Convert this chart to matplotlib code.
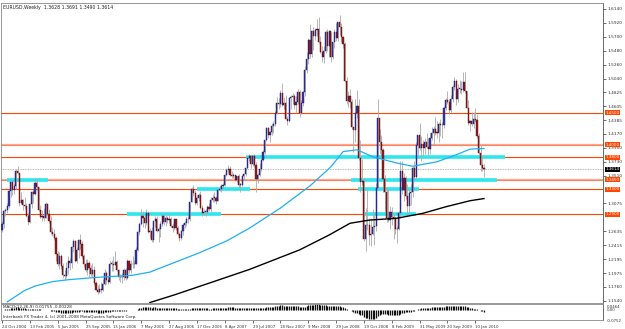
import numpy as np
import pandas as pd
import matplotlib
matplotlib.use('Agg')
import matplotlib.pyplot as plt
from matplotlib.transforms import blended_transform_factory

# ---------------- data (EURUSD weekly) ----------------
first_open = 1.2660
closes = [
 1.2755,1.2950,1.2965,1.3035,1.3265,1.3410,1.3290,1.3350,1.3590,1.3555,
 1.3080,1.3120,1.3055,1.3040,1.2880,1.2780,1.3070,1.3255,1.3215,1.3400,
 1.3330,1.2975,1.2860,1.2870,1.2850,1.3070,1.2900,1.2800,1.2620,1.2585,
 1.2530,1.2275,1.2125,1.2245,1.2080,1.1945,1.1935,1.2060,1.2160,1.2140,
 1.2385,1.2480,1.2165,1.2340,1.2490,1.2430,1.2245,1.2125,1.2025,1.2140,
 1.2055,1.1960,1.2030,1.1820,1.1710,1.1680,1.1725,1.1705,1.1810,1.1970,
 1.1860,1.1840,1.2125,1.2120,1.2110,1.2150,1.2030,1.1910,1.1905,1.1915,
 1.2030,1.1890,1.2160,1.2030,1.2120,1.2115,1.2120,1.2345,1.2625,1.2745,
 1.2880,1.2840,1.2760,1.2930,1.2620,1.2640,1.2500,1.2790,1.2830,1.2640,
 1.2675,1.2750,1.2880,1.2775,1.2850,1.2815,1.2825,1.2715,1.2685,1.2820,
 1.2685,1.2585,1.2535,1.2640,1.2740,1.2760,1.2835,1.2820,1.3095,1.3305,
 1.3240,1.3080,1.3160,1.3200,1.3005,1.2920,1.2940,1.2945,1.3020,1.2990,
 1.3135,1.3160,1.3160,1.3115,1.3280,1.3300,1.3355,1.3360,1.3520,1.3605,
 1.3620,1.3520,1.3510,1.3520,1.3450,1.3500,1.3370,1.3370,1.3505,1.3540,
 1.3625,1.3785,1.3815,1.3690,1.3825,1.3685,1.3460,1.3520,1.3620,1.3760,
 1.3880,1.4075,1.4265,1.4150,1.4200,1.4300,1.4330,1.4505,1.4650,1.4635,
 1.4820,1.4620,1.4650,1.4410,1.4375,1.4730,1.4755,1.4770,1.4630,1.4675,
 1.4830,1.4500,1.4665,1.4825,1.5180,1.5355,1.5650,1.5430,1.5790,1.5710,
 1.5805,1.5820,1.5620,1.5460,1.5390,1.5480,1.5770,1.5550,1.5790,1.5385,
 1.5615,1.5775,1.5685,1.5930,1.5860,1.5705,1.5595,1.5000,1.4685,1.4760,
 1.4680,1.4275,1.4225,1.4500,1.4615,1.3790,1.3410,1.3420,1.2510,1.2730,
 1.2740,1.2570,1.2590,1.2695,1.2720,1.3315,1.4420,1.4050,1.3920,1.3455,
 1.3255,1.2850,1.2805,1.2940,1.2860,1.2830,1.2665,1.2665,1.2920,1.3590,
 1.3290,1.3480,1.3185,1.3030,1.3240,1.3260,1.3635,1.3490,1.4000,1.4150,
 1.3950,1.4005,1.3950,1.4040,1.3970,1.3925,1.4110,1.4185,1.4250,1.4190,
 1.4185,1.4330,1.4310,1.4305,1.4575,1.4710,1.4680,1.4550,1.4720,1.4905,
 1.5010,1.4720,1.4880,1.4880,1.4865,1.4995,1.4840,1.4580,1.4335,1.4375,
 1.4325,1.4410,1.4385,1.4135,1.3865,1.3675,1.3628,1.3614]
highs = [
 1.2790,1.2970,1.3005,1.3075,1.3290,1.3450,1.3435,1.3400,1.3610,1.3667,
 1.3560,1.3250,1.3140,1.3180,1.3085,1.2920,1.3085,1.3275,1.3300,1.3478,
 1.3460,1.3340,1.3050,1.2970,1.3000,1.3100,1.3075,1.2990,1.2870,1.2700,
 1.2670,1.2560,1.2330,1.2300,1.2280,1.2130,1.2020,1.2150,1.2240,1.2210,
 1.2400,1.2520,1.2490,1.2390,1.2520,1.2590,1.2480,1.2270,1.2190,1.2190,
 1.2160,1.2110,1.2130,1.2090,1.1850,1.1780,1.1800,1.1830,1.1880,1.2040,
 1.2000,1.1930,1.2170,1.2180,1.2250,1.2320,1.2180,1.2040,1.1960,1.1970,
 1.2050,1.2050,1.2190,1.2180,1.2180,1.2250,1.2180,1.2380,1.2640,1.2780,
 1.2980,1.2950,1.2890,1.2980,1.2950,1.2680,1.2700,1.2800,1.2870,1.2870,
 1.2700,1.2790,1.2900,1.2910,1.2890,1.2880,1.2900,1.2860,1.2760,1.2830,
 1.2830,1.2720,1.2620,1.2660,1.2760,1.2800,1.2860,1.2870,1.3100,1.3330,
 1.3370,1.3280,1.3200,1.3230,1.3270,1.3050,1.2980,1.2990,1.3050,1.3080,
 1.3170,1.3220,1.3250,1.3190,1.3300,1.3370,1.3380,1.3390,1.3530,1.3640,
 1.3680,1.3660,1.3580,1.3560,1.3520,1.3510,1.3530,1.3400,1.3520,1.3550,
 1.3640,1.3790,1.3850,1.3830,1.3830,1.3850,1.3720,1.3560,1.3710,1.3780,
 1.3920,1.4080,1.4280,1.4280,1.4210,1.4340,1.4380,1.4530,1.4750,1.4730,
 1.4870,1.4970,1.4750,1.4780,1.4450,1.4750,1.4790,1.4820,1.4800,1.4770,
 1.4880,1.4860,1.4710,1.4840,1.5240,1.5460,1.5680,1.5900,1.5810,1.5850,
 1.5840,1.5980,1.6020,1.5710,1.5560,1.5560,1.5810,1.5820,1.5810,1.5780,
 1.5620,1.5820,1.5920,1.5940,1.6038,1.5920,1.5720,1.5620,1.5060,1.4850,
 1.4880,1.4720,1.4280,1.4720,1.4865,1.4720,1.4080,1.3780,1.3480,1.3000,
 1.3300,1.2850,1.2850,1.2990,1.2940,1.3400,1.4720,1.4240,1.4150,1.3940,
 1.3520,1.3330,1.3300,1.3040,1.3020,1.2900,1.2870,1.2720,1.2960,1.3740,
 1.3740,1.3560,1.3500,1.3380,1.3300,1.3380,1.3660,1.3740,1.4050,1.4160,
 1.4340,1.4140,1.4070,1.4100,1.4190,1.4100,1.4180,1.4280,1.4300,1.4440,
 1.4370,1.4350,1.4400,1.4350,1.4610,1.4740,1.4840,1.4720,1.4780,1.4940,
 1.5060,1.5030,1.4950,1.5020,1.5000,1.5140,1.5145,1.4850,1.4700,1.4390,
 1.4510,1.4510,1.4580,1.4480,1.4190,1.4000,1.3820,1.3691]
lows = [
 1.2630,1.2690,1.2880,1.2920,1.3000,1.3180,1.3210,1.3220,1.3300,1.3540,
 1.3040,1.3060,1.2970,1.2985,1.2860,1.2730,1.2760,1.3000,1.3080,1.3200,
 1.3280,1.2950,1.2840,1.2800,1.2800,1.2850,1.2890,1.2760,1.2590,1.2560,
 1.2500,1.2165,1.2090,1.2040,1.2035,1.1900,1.1870,1.1900,1.1960,1.2030,
 1.2060,1.2310,1.2150,1.2140,1.2220,1.2360,1.2210,1.2070,1.1990,1.1950,
 1.1910,1.1930,1.1920,1.1790,1.1700,1.1640,1.1660,1.1660,1.1690,1.1780,
 1.1810,1.1800,1.1820,1.2010,1.2000,1.2100,1.2000,1.1870,1.1830,1.1820,
 1.1860,1.1860,1.1880,1.1980,1.1980,1.2060,1.2060,1.2120,1.2330,1.2580,
 1.2730,1.2700,1.2680,1.2730,1.2600,1.2530,1.2460,1.2460,1.2700,1.2620,
 1.2460,1.2550,1.2720,1.2730,1.2710,1.2760,1.2760,1.2700,1.2630,1.2650,
 1.2660,1.2570,1.2480,1.2500,1.2580,1.2690,1.2720,1.2770,1.2800,1.3090,
 1.3190,1.3050,1.3050,1.3110,1.2980,1.2870,1.2890,1.2870,1.2920,1.2950,
 1.2940,1.3090,1.3100,1.3070,1.3110,1.3270,1.3250,1.3300,1.3350,1.3500,
 1.3560,1.3500,1.3480,1.3470,1.3420,1.3410,1.3340,1.3260,1.3350,1.3440,
 1.3510,1.3610,1.3750,1.3640,1.3660,1.3650,1.3260,1.3400,1.3500,1.3580,
 1.3740,1.3850,1.4060,1.4110,1.4040,1.4160,1.4180,1.4300,1.4480,1.4560,
 1.4600,1.4610,1.4570,1.4400,1.4310,1.4350,1.4570,1.4640,1.4570,1.4500,
 1.4640,1.4440,1.4480,1.4610,1.4770,1.5130,1.5270,1.5360,1.5380,1.5500,
 1.5650,1.5720,1.5600,1.5440,1.5300,1.5290,1.5450,1.5480,1.5380,1.5300,
 1.5350,1.5520,1.5630,1.5630,1.5730,1.5620,1.5520,1.4990,1.4640,1.4590,
 1.4580,1.4240,1.3880,1.4050,1.4420,1.3760,1.3260,1.3360,1.2480,1.2330,
 1.2650,1.2420,1.2400,1.2570,1.2420,1.2640,1.3310,1.3850,1.3800,1.3260,
 1.2950,1.2780,1.2780,1.2670,1.2730,1.2520,1.2590,1.2455,1.2650,1.2850,
 1.3220,1.3110,1.3140,1.2890,1.2890,1.3050,1.3180,1.3460,1.3480,1.3830,
 1.3920,1.3750,1.3820,1.3850,1.3950,1.3830,1.3860,1.4070,1.4000,1.4150,
 1.4110,1.4050,1.4130,1.4100,1.4270,1.4540,1.4640,1.4480,1.4520,1.4680,
 1.4860,1.4630,1.4680,1.4810,1.4800,1.4830,1.4810,1.4580,1.4310,1.4220,
 1.4290,1.4260,1.4360,1.4100,1.3850,1.3590,1.3580,1.3490]

# moving averages (bar index, price)
ma_cyan_idx = [3, 13, 19, 29, 38, 56, 75, 85, 98, 113, 129, 142, 160, 177, 189, 196, 204, 213, 227, 236, 250, 261, 269, 277]
ma_cyan_val = [1.152, 1.170, 1.177, 1.184, 1.187, 1.191, 1.194, 1.199, 1.213, 1.229, 1.248, 1.268, 1.300, 1.335, 1.365, 1.389, 1.392, 1.381, 1.371, 1.366, 1.373, 1.384, 1.393, 1.394]
ma_black_idx = [85, 99, 113, 142, 171, 188, 200, 211, 227, 242, 255, 269, 277]
ma_black_val = [1.151, 1.163, 1.176, 1.203, 1.234, 1.2575, 1.276, 1.281, 1.284, 1.2918, 1.302, 1.3116, 1.315]

# horizontal levels
level_prices = [1.4500, 1.4000, 1.3800, 1.3450, 1.3300, 1.2900]
level_pale = [False, True, False, True, False, False]
zone_prices = [1.3450, 1.2900, 1.3300, 1.3800, 1.3450, 1.3300, 1.2900]
zone_start = [2.9, 72, 112, 140, 200.6, 204.6, 208.6]
zone_end = [26.4, 126, 142.5, 289, 284.5, 239.7, 238]

# price scale labels (1.3290 and 1.2855 are hidden behind level boxes in the chart)
price_ticks = [1.6140, 1.5920, 1.5700, 1.5480, 1.5260, 1.5040, 1.4825, 1.4605, 1.4385,
               1.4170, 1.3950, 1.3730, 1.3510, 1.3075, 1.2635, 1.2415,
               1.2195, 1.1975, 1.1760, 1.1540]
date_tick_idx = list(range(0, 273, 16))
date_tick_labels = ["24 Oct 2004", "13 Feb 2005", "5 Jun 2005", "25 Sep 2005", "15 Jan 2006",
                    "7 May 2006", "27 Aug 2006", "17 Dec 2006", "8 Apr 2007", "29 Jul 2007",
                    "18 Nov 2007", "9 Mar 2008", "29 Jun 2008", "19 Oct 2008", "8 Feb 2009",
                    "31 May 2009", "20 Sep 2009", "10 Jan 2010"]
current_price = 1.3614
header = "EURUSD,Weekly  1.3628 1.3691 1.3490 1.3614"

# ---------------- figure ----------------
W, H = 625, 329
fig = plt.figure(figsize=(W / 100, H / 100), dpi=100)
fig.patch.set_facecolor('white')

def fy(py):
    return 1 - py / H

main_top, main_bot = 3, 302.5
ind_top, ind_bot = 303.5, 320
left_px, right_px = 1, 603
ax = fig.add_axes([left_px / W, fy(main_bot), (right_px - left_px) / W, (main_bot - main_top) / H])
axi = fig.add_axes([left_px / W, fy(ind_bot), (right_px - left_px) / W, (ind_bot - ind_top) / H], sharex=ax)

def price_at(py):
    return 1.6140 - (py - 9) / 634.0

x_per_bar = 1.74
x0 = 2.0
xlim = ((left_px - x0) / x_per_bar, (right_px - x0) / x_per_bar)
ax.set_xlim(*xlim)
ax.set_ylim(price_at(main_bot), price_at(main_top))

n = len(closes)
idx = np.arange(n)
opens = np.array([first_open] + closes[:-1])
closes_a = np.array(closes)
highs_a = np.array(highs)
lows_a = np.array(lows)

# levels
for p, pale in zip(level_prices, level_pale):
    if pale:
        ax.axhline(p, color='#F8A98E', lw=1.6, zorder=1)
        ax.axhline(p, color='#FF6A3D', lw=0.4, zorder=1)
    else:
        ax.axhline(p, color='#FF4500', lw=0.8, zorder=1)
ax.axhline(current_price, color='#A0A0A0', lw=0.6, ls=(0, (1, 1)), zorder=1)

# cyan zones
for p, s, e in zip(zone_prices, zone_start, zone_end):
    ax.plot([s, e], [p, p], color='#2EE6EE', lw=2.6, solid_capstyle='butt', zorder=2)

# candles
ax.vlines(idx, lows_a, highs_a, color='#ABABAB', lw=0.6, zorder=3)
bull = closes_a >= opens
body_lo = np.minimum(opens, closes_a)
body_h = np.maximum(np.abs(closes_a - opens), 0.0008)
ax.bar(idx[bull], body_h[bull], bottom=body_lo[bull], width=0.65, color='#3A3A98',
       edgecolor='#151575', lw=0.3, zorder=4)
ax.bar(idx[~bull], body_h[~bull], bottom=body_lo[~bull], width=0.65, color='#8A2222',
       edgecolor='#700000', lw=0.3, zorder=4)

# moving averages
ax.plot(ma_cyan_idx, ma_cyan_val, color='#1EB0F0', lw=0.9, zorder=5)
ax.plot(ma_black_idx, ma_black_val, color='black', lw=1.0, zorder=5)

# axes styling
for a in (ax, axi):
    for s in a.spines.values():
        s.set_color('#888888')
        s.set_linewidth(0.6)
    a.spines['right'].set_color('#505050')
    a.set_facecolor('white')

ax.yaxis.tick_right()
ax.set_yticks(price_ticks)
ax.set_yticklabels([f"{t:.4f}" for t in price_ticks])
ax.tick_params(axis='y', labelsize=3.1, length=2, width=0.5, pad=1, colors='#333333')
ax.tick_params(axis='x', bottom=False, labelbottom=False)

# right side price boxes
trans = blended_transform_factory(ax.transAxes, ax.transData)
for p in level_prices:
    ax.text(1.004, p, f"{p:.4f}", transform=trans, fontsize=3.0, color='white',
            va='center', ha='left', zorder=10, clip_on=False,
            bbox=dict(facecolor='#FF4500', edgecolor='none', pad=0.35))
ax.text(1.004, current_price, f"{current_price:.4f}", transform=trans, fontsize=3.0,
        color='white', va='center', ha='left', zorder=10, clip_on=False,
        bbox=dict(facecolor='black', edgecolor='none', pad=0.35))

# header
fig.text(3 / W, fy(7), header, fontsize=3.3, color='#222222', va='center', ha='left')

# ---------------- MACD panel ----------------
cs = pd.Series(closes_a)
macd = (cs.ewm(span=12, adjust=False).mean() - cs.ewm(span=26, adjust=False).mean()).values
ind_min, ind_max = -0.0752, 0.0464
axi.set_ylim(ind_min, ind_max)
axi.vlines(idx, 0, macd, color='#111111', lw=0.9)
axi.yaxis.tick_right()
axi.set_yticks([ind_max * 0.6, 0.0, ind_min])
axi.set_yticklabels(["0.0464", "0.00", "-0.0752"])
axi.tick_params(axis='y', labelsize=2.8, length=0, pad=3, colors='#333333')
axi.text(0.003, 0.93, "MACD(12,26,9) 0.01755 -0.00228", transform=axi.transAxes,
         fontsize=3.0, va='top', ha='left', color='#222222')
axi.text(0.003, 0.05, "Interbank FX Trader 4, (c) 2001-2008 MetaQuotes Software Corp.",
         transform=axi.transAxes, fontsize=3.0, va='bottom', ha='left', color='#222222')

axi.set_xticks(date_tick_idx)
axi.set_xticklabels(date_tick_labels, ha='left')
axi.tick_params(axis='x', labelsize=2.8, length=2, width=0.5, pad=1.5, colors='#333333')
axi.set_xlim(*xlim)

fig.savefig('out.png', dpi=100, facecolor='white')
